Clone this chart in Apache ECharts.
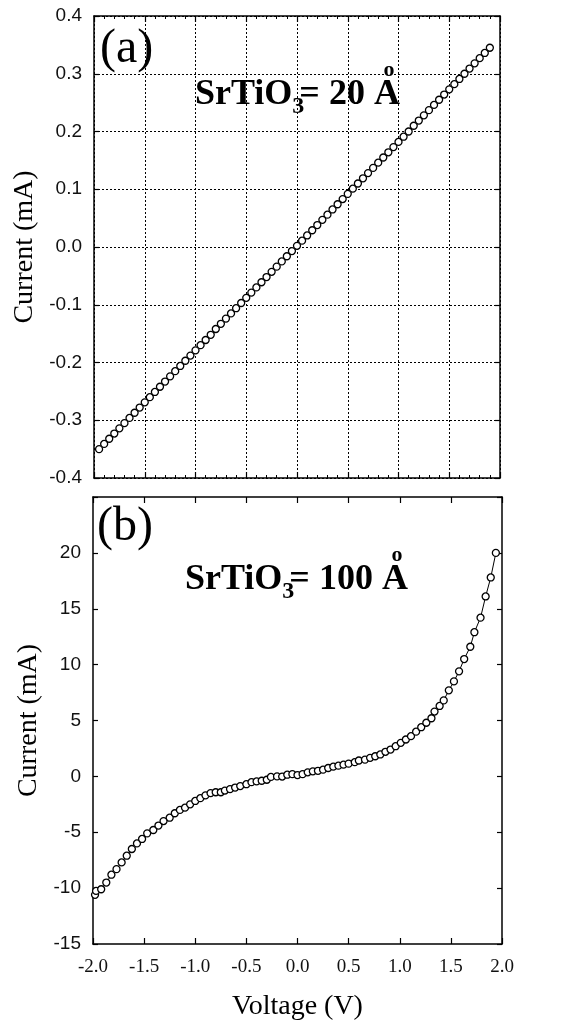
<!DOCTYPE html>
<html>
<head>
<meta charset="utf-8">
</head>
<body style="margin:0;background:#fff">
<div id="main" style="width:588px;height:1023px"></div>
<script src="https://cdn.jsdelivr.net/npm/echarts@6/dist/echarts.min.js"></script>
<script>
// panel (a): SrTiO3 = 20 A
var voltA = [-1.95,-1.90,-1.85,-1.80,-1.75,-1.70,-1.65,-1.60,-1.55,-1.50,-1.45,-1.40,-1.35,-1.30,-1.25,-1.20,-1.15,-1.10,-1.05,-1.00,
  -0.95,-0.90,-0.85,-0.80,-0.75,-0.70,-0.65,-0.60,-0.55,-0.50,-0.45,-0.40,-0.35,-0.30,-0.25,-0.20,-0.15,-0.10,-0.05,0.00,
  0.05,0.10,0.15,0.20,0.25,0.30,0.35,0.40,0.45,0.50,0.55,0.60,0.65,0.70,0.75,0.80,0.85,0.90,0.95,1.00,
  1.05,1.10,1.15,1.20,1.25,1.30,1.35,1.40,1.45,1.50,1.55,1.60,1.65,1.70,1.75,1.80,1.85,1.90];
var currA = [-0.350,-0.341,-0.332,-0.323,-0.314,-0.305,-0.296,-0.287,-0.278,-0.269,-0.260,-0.251,-0.242,-0.233,-0.224,-0.215,-0.206,-0.197,-0.188,-0.179,
  -0.170,-0.161,-0.152,-0.142,-0.133,-0.124,-0.115,-0.106,-0.097,-0.088,-0.079,-0.070,-0.061,-0.052,-0.043,-0.034,-0.025,-0.016,-0.007,0.002,
  0.011,0.020,0.029,0.038,0.047,0.056,0.065,0.074,0.083,0.092,0.101,0.110,0.119,0.128,0.137,0.146,0.155,0.164,0.173,0.182,
  0.191,0.200,0.210,0.219,0.228,0.237,0.246,0.255,0.264,0.273,0.282,0.291,0.300,0.309,0.318,0.327,0.336,0.345];

// panel (b): SrTiO3 = 100 A
var voltB = [-1.98,-1.97,-1.92,-1.87,-1.82,-1.77,-1.72,-1.67,-1.62,-1.57,-1.52,-1.47,-1.41,-1.36,-1.31,-1.25,-1.20,-1.15,-1.10,-1.05,-1.00,
  -0.95,-0.90,-0.85,-0.80,-0.75,-0.71,-0.66,-0.61,-0.56,-0.50,-0.45,-0.40,-0.35,-0.30,-0.26,-0.20,-0.15,-0.10,-0.05,0.00,
  0.05,0.10,0.15,0.20,0.25,0.30,0.35,0.40,0.45,0.50,0.56,0.60,0.66,0.71,0.76,0.81,0.86,0.91,0.96,1.01,
  1.06,1.11,1.16,1.21,1.26,1.31,1.34,1.39,1.43,1.48,1.53,1.58,1.63,1.69,1.73,1.79,1.84,1.89,1.94];
var currB = [-10.6,-10.25,-10.1,-9.5,-8.8,-8.3,-7.7,-7.1,-6.5,-6.0,-5.6,-5.1,-4.8,-4.4,-4.0,-3.7,-3.3,-3.0,-2.8,-2.5,-2.2,
  -1.95,-1.7,-1.5,-1.42,-1.42,-1.27,-1.14,-1.0,-0.87,-0.7,-0.52,-0.45,-0.39,-0.3,-0.05,0.0,-0.02,0.15,0.2,0.12,
  0.2,0.36,0.45,0.5,0.6,0.75,0.87,0.96,1.05,1.14,1.27,1.42,1.5,1.66,1.8,1.96,2.2,2.4,2.7,3.0,
  3.3,3.6,4.0,4.4,4.8,5.2,5.8,6.3,6.8,7.7,8.5,9.4,10.5,11.6,12.9,14.2,16.1,17.8,20.0];

// axis ticks
var xTicks = [-2.0, -1.5, -1.0, -0.5, 0.0, 0.5, 1.0, 1.5, 2.0];
var yTicksA = [-0.4, -0.3, -0.2, -0.1, 0.0, 0.1, 0.2, 0.3, 0.4];
var yTicksB = [-15, -10, -5, 0, 5, 10, 15, 20, 25];

function pairs(xs, ys) {
  var out = [];
  for (var i = 0; i < xs.length; i++) out.push([xs[i], ys[i]]);
  return out;
}

var black = '#000';
var dotted = {show: true, lineStyle: {color: black, width: 1, type: [2, 2]}};
var serif = '"Liberation Serif", "Times New Roman", serif';
var sans = '"Liberation Sans", Arial, sans-serif';

function xAx(grid, pos, labels, minor, split) {
  var ax = {
    type: 'value', gridIndex: grid, position: pos,
    min: xTicks[0], max: xTicks[xTicks.length - 1], interval: 0.5,
    axisLine: {show: true, onZero: false, lineStyle: {color: black, width: 1.5}},
    axisTick: {show: true, inside: true, length: 6, lineStyle: {color: black, width: 1.2}},
    minorTick: {show: minor, splitNumber: 5, length: 3, lineStyle: {color: black, width: 1}},
    splitLine: split ? dotted : {show: false},
    axisLabel: {show: labels, margin: 14, fontFamily: serif, fontSize: 19, color: '#111',
      formatter: function (v) { return v.toFixed(1); }}
  };
  return ax;
}

function yAx(grid, pos, ticks, step, labels, split, fmt) {
  return {
    type: 'value', gridIndex: grid, position: pos,
    min: ticks[0], max: ticks[ticks.length - 1], interval: step,
    axisLine: {show: true, onZero: false, lineStyle: {color: black, width: 1.5}},
    axisTick: {show: true, inside: true, length: 5, lineStyle: {color: black, width: 1.2}},
    splitLine: split ? dotted : {show: false},
    axisLabel: {show: labels, margin: 12, fontFamily: sans, fontSize: 19, color: '#111', formatter: fmt}
  };
}

var yA = yAx(0, 'left', yTicksA, 0.1, true, true, function (v) { return v.toFixed(1); });
yA.name = 'Current (mA)';
yA.nameLocation = 'middle';
yA.nameGap = 54;
yA.nameTextStyle = {fontFamily: serif, fontSize: 28, color: black};

var yB = yAx(1, 'left', yTicksB, 5, true, false, function (v) { return v > 20 ? '' : String(v); });
yB.name = 'Current (mA)';
yB.nameLocation = 'middle';
yB.nameGap = 43;
yB.nameTextStyle = {fontFamily: serif, fontSize: 28, color: black};

var xB = xAx(1, 'bottom', true, false, false);
xB.name = 'Voltage (V)';
xB.nameLocation = 'middle';
xB.nameGap = 49;
xB.nameTextStyle = {fontFamily: serif, fontSize: 28, color: black};

function ser(xi, yi, data) {
  return {
    type: 'line', xAxisIndex: xi, yAxisIndex: yi, data: data,
    symbol: 'circle', symbolSize: 7, showAllSymbol: true, z: 3,
    itemStyle: {color: '#fff', borderColor: black, borderWidth: 1.3},
    lineStyle: {color: black, width: 1}
  };
}

// formula labels, pieces placed with measured widths
var ctx = document.createElement('canvas').getContext('2d');
function tw(t, size) {
  ctx.font = 'bold ' + size + 'px ' + serif;
  return ctx.measureText(t).width;
}
function txt(x, y, t, size, extra) {
  var st = {text: t, font: 'bold ' + size + 'px ' + serif, fill: black, align: 'left', verticalAlign: 'middle'};
  if (extra) for (var k in extra) st[k] = extra[k];
  return {type: 'text', x: x, y: y, z: 10, style: st};
}
function formula(x0, cy, num) {
  var big = 36, els = [], x = x0;
  els.push(txt(x, cy, 'SrTiO', big));
  x += tw('SrTiO', big);
  els.push(txt(x, cy + 12, '3', 24));
  x += tw('3', 24) - 5;
  els.push(txt(x, cy, '=', big));
  x += tw('= ', big);
  els.push(txt(x, cy, num, big));
  x += tw(num + ' ', big);
  els.push(txt(x, cy, 'A', big));
  els.push(txt(x + tw('A', big) / 2 + 2, cy - 25, 'o', 22, {align: 'center'}));
  return els;
}

var graphics = [
  {type: 'text', x: 100, y: 49, z: 10, style: {text: '(a)', font: '48px ' + serif, fill: black, verticalAlign: 'middle'}},
  {type: 'text', x: 97, y: 527, z: 10, style: {text: '(b)', font: '48px ' + serif, fill: black, verticalAlign: 'middle'}}
].concat(formula(195, 95, '20')).concat(formula(185, 580, '100'));

var chart = echarts.init(document.getElementById('main'), null, {renderer: 'canvas'});
chart.setOption({
  animation: false,
  backgroundColor: '#fff',
  grid: [
    {left: 94, top: 16, width: 406, height: 462},
    {left: 93, top: 497, width: 409, height: 447}
  ],
  xAxis: [
    xAx(0, 'bottom', false, true, true),
    xAx(0, 'top', false, true, false),
    xB,
    xAx(1, 'top', false, false, false)
  ],
  yAxis: [
    yA,
    yAx(0, 'right', yTicksA, 0.1, false, false),
    yB,
    yAx(1, 'right', yTicksB, 5, false, false)
  ],
  series: [
    ser(0, 0, pairs(voltA, currA)),
    ser(2, 2, pairs(voltB, currB))
  ],
  graphic: graphics
});
</script>
</body>
</html>
